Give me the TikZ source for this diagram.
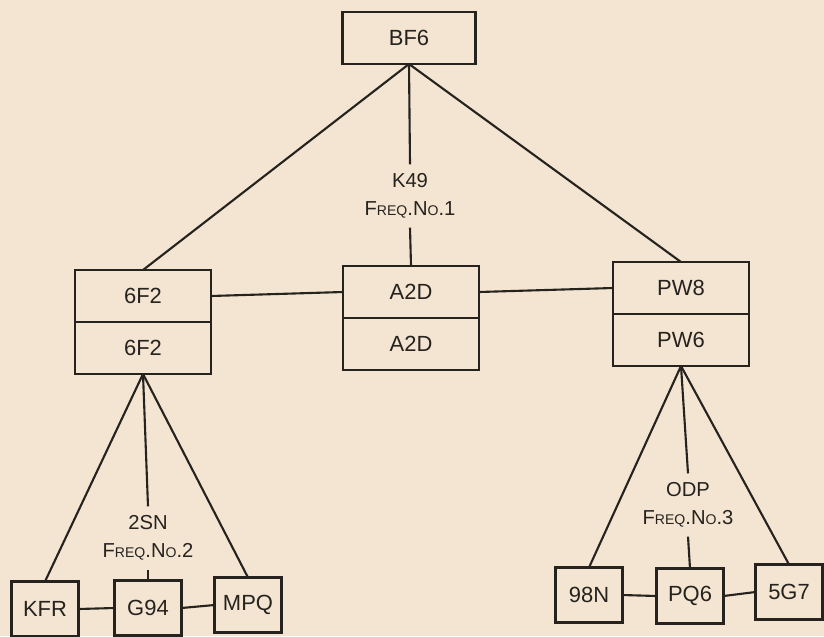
\documentclass[tikz,border=0pt]{standalone}
\usepackage{fontspec}
\setmainfont{Liberation Sans}
\usepackage{tikz}
\usetikzlibrary{positioning}
\definecolor{paper}{RGB}{243,229,210}
\definecolor{ink}{RGB}{38,34,30}
\newcommand\sml[1]{{\fontsize{8}{9}\selectfont #1}}
\newcommand\freqno[1]{F\sml{REQ}.N\sml{O}.#1}

\begin{document}
\begin{tikzpicture}[x=0.02cm,y=-0.02cm,
    every node/.style={text=ink},
    stn/.style={draw=ink,line width=1.6pt,minimum width=2.72cm,minimum height=1.04cm,
        inner sep=0pt,outer sep=0pt,font=\fontsize{12.5}{14}\selectfont},
    leaf/.style={stn,minimum width=1.34cm,minimum height=1.1cm},
    net/.style={align=center,inner sep=5pt,font=\fontsize{11.5}{16}\selectfont},
    link/.style={draw=ink,line width=1.2pt}]

    \fill[paper] (0,0) rectangle (824,636);
    \useasboundingbox (0,0) rectangle (824,636);

    \node[stn, minimum width=2.66cm] (bf6) at (409,38) {BF6};

    \node[stn] (f2_top) at (143,296) {6F2};
    \node[stn] (f2_bot) [below=0pt of f2_top] {6F2};
    \node[stn] (a2d_top) at (411,292) {A2D};
    \node[stn] (a2d_bot) [below=0pt of a2d_top] {A2D};
    \node[stn] (pw_top) at (681,288) {PW8};
    \node[stn] (pw_bot) [below=0pt of pw_top] {PW6};

    \node[net] (k49) at (410,196) {K49\\\freqno{1}};
    \node[net] (sn2) at (148,538) {2SN\\\freqno{2}};
    \node[net] (odp) at (688,505) {ODP\\\freqno{3}};

    \node[leaf] (kfr) at (45,609) {KFR};
    \node[leaf] (g94) at (148,608) {G94};
    \node[leaf] (mpq) at (248,605) {MPQ};
    \node[leaf] (n98) at (589,595) {98N};
    \node[leaf] (pq6) at (690,596) {PQ6};
    \node[leaf] (g57) at (789,592) {5G7};

    \path[link] (bf6.south) edge (f2_top.north)
                (bf6.south) edge (pw_top.north)
                (bf6.south) edge (k49.north)
                (k49.south) edge (a2d_top.north)
                (f2_top.east) edge (a2d_top.west)
                (a2d_top.east) edge (pw_top.west);

    \path[link] (f2_bot.south) edge (kfr.north)
                (f2_bot.south) edge (mpq.north)
                (f2_bot.south) edge (sn2.north)
                (sn2.south) edge (g94.north)
                (kfr.east) edge (g94.west)
                (g94.east) edge (mpq.west);

    \path[link] (pw_bot.south) edge (n98.north)
                (pw_bot.south) edge (g57.north)
                (pw_bot.south) edge (odp.north)
                (odp.south) edge (pq6.north)
                (n98.east) edge (pq6.west)
                (pq6.east) edge (g57.west);
\end{tikzpicture}
\end{document}
